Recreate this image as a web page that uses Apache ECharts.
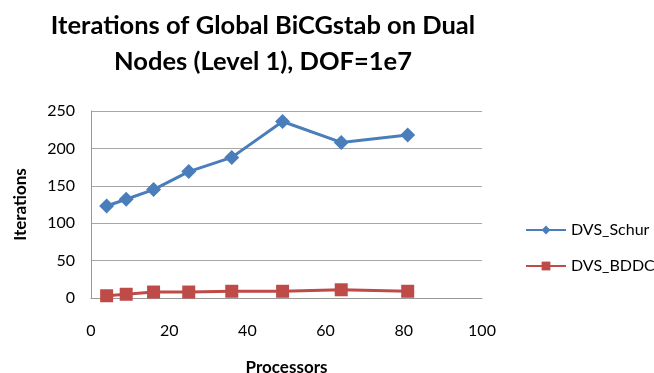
<!DOCTYPE html>
<html>
<head>
<meta charset="utf-8">
<script src="https://cdn.jsdelivr.net/npm/echarts@6/dist/echarts.min.js"></script>
<style>
  html, body { margin: 0; padding: 0; background: #fff; }
  #chart { width: 654px; height: 373px; }
</style>
</head>
<body>
<div id="chart"></div>
<script>
// Processor counts and global BiCGstab iteration counts
const processors = [4, 9, 16, 25, 36, 49, 64, 81];
const schurIters = [123, 132, 145, 169, 188, 236, 208, 218];
const bddcIters = [3, 5, 8, 8, 9, 9, 11, 9];
const xTicks = [0, 20, 40, 60, 80, 100];
const yTicks = [0, 50, 100, 150, 200, 250];

const FONT = 'Lato, "Open Sans", sans-serif';

const chart = echarts.init(document.getElementById('chart'));
chart.setOption({
  animation: false,
  title: {
    text: 'Iterations of Global BiCGstab on Dual\nNodes (Level 1), DOF=1e7',
    left: 258,
    textAlign: 'center',
    top: 3,
    textStyle: { fontFamily: FONT, fontWeight: 'bold', fontSize: 25.5, lineHeight: 36, color: '#000' }
  },
  legend: {
    orient: 'vertical',
    left: 520,
    top: 217,
    itemWidth: 40,
    itemHeight: 11,
    itemGap: 20,
    textStyle: { fontFamily: FONT, fontSize: 16, color: '#000' },
    data: ['DVS_Schur', 'DVS_BDDC']
  },
  grid: { left: 91, right: 172, top: 111, bottom: 75, outerBoundsMode: 'none' },
  xAxis: {
    type: 'value',
    min: xTicks[0],
    max: xTicks[xTicks.length - 1],
    interval: 20,
    name: 'Processors',
    nameLocation: 'middle',
    nameGap: 61,
    nameTextStyle: { fontFamily: FONT, fontWeight: 'bold', fontSize: 17, color: '#000' },
    axisLine: { lineStyle: { color: '#999' } },
    axisTick: { show: false },
    splitLine: { show: false },
    axisLabel: { fontFamily: FONT, fontSize: 16, color: '#000', margin: 25 }
  },
  yAxis: {
    type: 'value',
    min: yTicks[0],
    max: yTicks[yTicks.length - 1],
    interval: 50,
    name: 'Iterations',
    nameLocation: 'middle',
    nameGap: 62,
    nameRotate: 90,
    nameTextStyle: { fontFamily: FONT, fontWeight: 'bold', fontSize: 17, color: '#000' },
    axisLine: { show: true, lineStyle: { color: '#999' } },
    axisTick: { show: false },
    splitLine: { lineStyle: { color: '#a6a6a6', width: 1 } },
    axisLabel: { fontFamily: FONT, fontSize: 16, color: '#000', margin: 16 }
  },
  series: [
    {
      name: 'DVS_Schur',
      type: 'line',
      data: processors.map((p, i) => [p, schurIters[i]]),
      symbol: 'diamond',
      symbolSize: 15,
      itemStyle: { color: '#4a7ebb' },
      lineStyle: { color: '#4a7ebb', width: 3 }
    },
    {
      name: 'DVS_BDDC',
      type: 'line',
      data: processors.map((p, i) => [p, bddcIters[i]]),
      symbol: 'rect',
      symbolSize: 13,
      itemStyle: { color: '#be4b48' },
      lineStyle: { color: '#be4b48', width: 3 }
    }
  ]
});
</script>
</body>
</html>
